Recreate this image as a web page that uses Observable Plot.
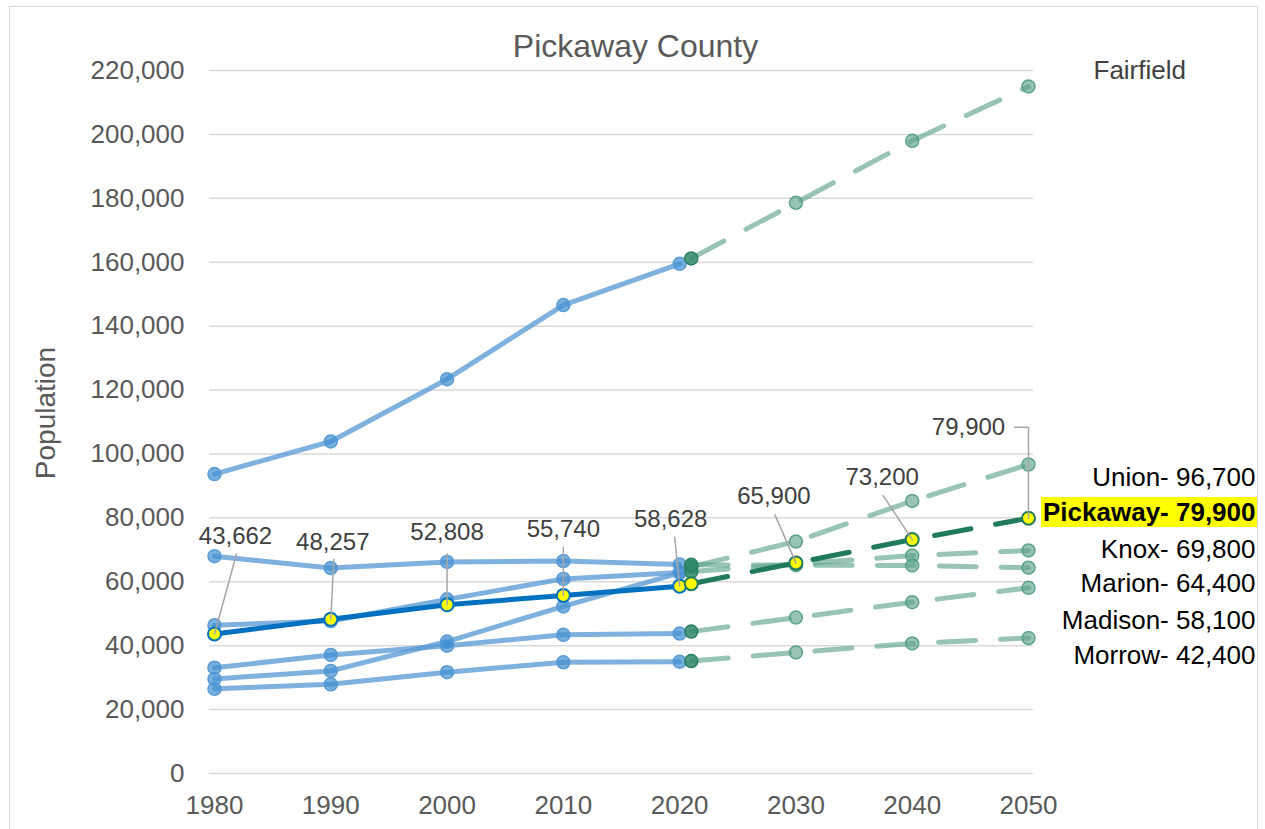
<!DOCTYPE html>
<html><head><meta charset="utf-8">
<script src="https://cdn.jsdelivr.net/npm/d3@7"></script>
<script src="https://cdn.jsdelivr.net/npm/@observablehq/plot@0.6"></script>
<style>
body{margin:0;background:#fff;}
#wrap{position:relative;width:1265px;height:829px;overflow:hidden;}
#wrap svg{position:absolute;left:0;top:0;}
#border{position:absolute;left:9px;top:6px;width:1247px;height:840px;border:1.5px solid #d9d9d9;pointer-events:none;}
</style></head><body><div id="wrap"><div id="border"></div></div>
<script>
// ---- data ----
const counties = ["Fairfield","Union","Pickaway","Knox","Marion","Madison","Morrow"];
const histYears = [1980,1990,2000,2010,2020];
const projYears = [2021,2030,2040,2050];
const fairfieldHist = [93700,103900,123400,146600,159500];
const unionHist     = [29600,32100,41300,52300,62800];
const pickawayHist  = [43662,48257,52808,55740,58628];
const knoxHist      = [46400,47700,54500,60900,62900];
const marionHist    = [68000,64300,66200,66500,65400];
const madisonHist   = [33100,37100,40000,43400,43800];
const morrowHist    = [26500,27900,31700,34800,35000];
const fairfieldProj = [161200,178600,198000,215000];
const unionProj     = [64700,72600,85300,96700];
const pickawayProj  = [59400,65900,73200,79900];
const knoxProj      = [63200,65500,68200,69800];
const marionProj    = [65300,65200,65100,64400];
const madisonProj   = [44400,48800,53600,58100];
const morrowProj    = [35200,37900,40700,42400];
const xTicks = [1980,1990,2000,2010,2020,2030,2040,2050];
const yTicks = [0,20000,40000,60000,80000,100000,120000,140000,160000,180000,200000,220000];
const titleText = "Pickaway County";
const yLabel = "Population";

// ---- tables ----
const fmt = d3.format(",");
const histArr = [fairfieldHist,unionHist,pickawayHist,knoxHist,marionHist,madisonHist,morrowHist];
const projArr = [fairfieldProj,unionProj,pickawayProj,knoxProj,marionProj,madisonProj,morrowProj];
const hist = [], proj = [];
counties.forEach((c,i)=>{
  histYears.forEach((y,j)=>hist.push({county:c, year:y, pop:histArr[i][j]}));
  projYears.forEach((y,j)=>proj.push({county:c, year:y, pop:projArr[i][j]}));
});
const isP = d => d.county === "Pickaway";
const histO = hist.filter(d=>!isP(d)), histP = hist.filter(isP);
const projO = proj.filter(d=>!isP(d)), projP = proj.filter(isP);
const last = proj.filter(d=>d.year===2050);

// ---- layout (pixel offsets) ----
const rightDy = {Union:13.4, Pickaway:-6, Knox:-0.3, Marion:16.2, Madison:32.4, Morrow:17.5};
// labelled Pickaway points: [year, value, labelOffset, leader path offsets]
const callouts = [
  [1980, pickawayHist[0], [21,-98], [[22,-80],[0,0]]],
  [1990, pickawayHist[1], [2,-77], [[3,-60],[0,0]]],
  [2000, pickawayHist[2], [0,-72], [[0,-51],[0,0]]],
  [2010, pickawayHist[3], [0,-66], [[0,-48],[0,0]]],
  [2020, pickawayHist[4], [-9,-67], [[-5,-49],[0,0]]],
  [2030, pickawayProj[1], [-22,-67], [[-21,-48],[0,0]]],
  [2040, pickawayProj[2], [-30,-62], [[-29,-44],[0,0]]],
  [2050, pickawayProj[3], [-60,-91], [[-14,-91],[0,-91],[0,0]]]
];

const font = "'Liberation Sans', Arial, Helvetica, sans-serif";
const base = {
  width:1265, height:829, marginLeft:209, marginRight:232, marginTop:70, marginBottom:56,
  style:{fontFamily:font, background:"transparent", overflow:"visible"},
  x:{domain:[1980,2050], insetLeft:5, insetRight:5},
  y:{domain:[0,220000]}
};

function baseMarks(){
  return [
    Plot.gridY(yTicks, {stroke:"#d9d9d9", strokeOpacity:1, strokeWidth:1.5}),
    Plot.axisY(yTicks, {tickSize:0, tickPadding:25, fontSize:26, color:"#595959", tickFormat:fmt, label:null}),
    Plot.axisX(xTicks, {tickSize:0, tickPadding:22, fontSize:26, color:"#595959", tickFormat:d=>String(d), label:null}),
    // historical, other counties
    Plot.line(histO, {x:"year", y:"pop", z:"county", stroke:"#5b9bd5", strokeOpacity:0.78, strokeWidth:5}),
    Plot.dot(histO, {x:"year", y:"pop", r:6.5, fill:"#3f8fd2", fillOpacity:0.7, stroke:"#5b9bd5", strokeWidth:1.5}),
    // historical, Pickaway
    Plot.line(histP, {x:"year", y:"pop", stroke:"#0070c0", strokeWidth:5}),
    Plot.dot(histP, {x:"year", y:"pop", r:6.5, fill:"#ffff00", stroke:"#0070c0", strokeWidth:2}),
    // projections, other counties
    Plot.line(projO, {x:"year", y:"pop", z:"county", stroke:"#5fa58a", strokeOpacity:0.65, strokeWidth:5, strokeDasharray:"37,25", strokeLinecap:"round"}),
    Plot.dot(projO.filter(d=>d.year!==2021), {x:"year", y:"pop", r:6.5, fill:"#5fa58a", fillOpacity:0.65, stroke:"#4c9a7d", strokeOpacity:0.85, strokeWidth:1.5}),
    Plot.dot(projO.filter(d=>d.year===2021), {x:"year", y:"pop", r:6.5, fill:"#2f8a6c", fillOpacity:0.85, stroke:"#2a7f63", strokeWidth:1.5}),
    // projections, Pickaway
    Plot.line(projP, {x:"year", y:"pop", stroke:"#217a5c", strokeWidth:5, strokeDasharray:"37,25", strokeLinecap:"round"}),
    Plot.dot(projP, {x:"year", y:"pop", r:6.5, fill:"#ffff00", stroke:"#217a5c", strokeWidth:2})
  ];
}

// pass 1: get the library's scales
const probe = Plot.plot({...base, marks: baseMarks()});
const sx = probe.scale("x"), sy = probe.scale("y");
const toData = (year, val, off) => ({year: sx.invert(sx.apply(year)+off[0]), pop: sy.invert(sy.apply(val)+off[1])});

const labelData = callouts.map(([yr,v,lo]) => ({...toData(yr,v,lo), text: fmt(v)}));
const leaderData = [];
callouts.forEach(([yr,v,lo,path],k) => path.forEach(o => leaderData.push({k, ...toData(yr,v,o)})));

const rightAll = last.filter(d=>d.county!=="Fairfield");
const fair = last.filter(d=>d.county==="Fairfield");

const rightMarks = rightAll.map(d => Plot.text([d], {
  x:"year", y:"pop", text:v=>`${v.county}- ${fmt(v.pop)}`, textAnchor:"end", lineAnchor:"middle",
  dx:227, dy:rightDy[d.county], fontSize:26, fill:"#000",
  fontWeight: isP(d) ? "bold" : "normal",
  className: isP(d) ? "pick-label" : undefined
}));

const plot = Plot.plot({...base, marks: [
  ...baseMarks(),
  Plot.line(leaderData, {x:"year", y:"pop", z:"k", stroke:"#a6a6a6", strokeWidth:1.5}),
  Plot.text(labelData, {x:"year", y:"pop", text:"text", fontSize:24, fill:"#404040", lineAnchor:"middle"}),
  ...rightMarks,
  Plot.text(fair, {x:"year", y:"pop", text:d=>d.county, textAnchor:"start", lineAnchor:"middle", dx:65, dy:-16, fontSize:26, fill:"#404040"}),
  Plot.text([titleText], {frameAnchor:"top", textAnchor:"middle", lineAnchor:"middle", dx:14, dy:-24, fontSize:32, fill:"#595959"}),
  Plot.text([yLabel], {frameAnchor:"left", rotate:-90, textAnchor:"middle", lineAnchor:"middle", dx:-163, dy:-9, fontSize:28, fill:"#595959"})
]});
document.getElementById("wrap").prepend(plot);

// yellow highlight behind the Pickaway label
(function(){
  const t = plot.querySelector(".pick-label text");
  if (t) {
    const b = t.getBBox();
    const r = document.createElementNS("http://www.w3.org/2000/svg","rect");
    r.setAttribute("x", b.x-2); r.setAttribute("y", b.y+0.5);
    r.setAttribute("width", b.width+4); r.setAttribute("height", b.height);
    r.setAttribute("fill", "#ffff00");
    if (t.getAttribute("transform")) r.setAttribute("transform", t.getAttribute("transform"));
    t.parentNode.insertBefore(r, t);
  }
})();
</script></body></html>
